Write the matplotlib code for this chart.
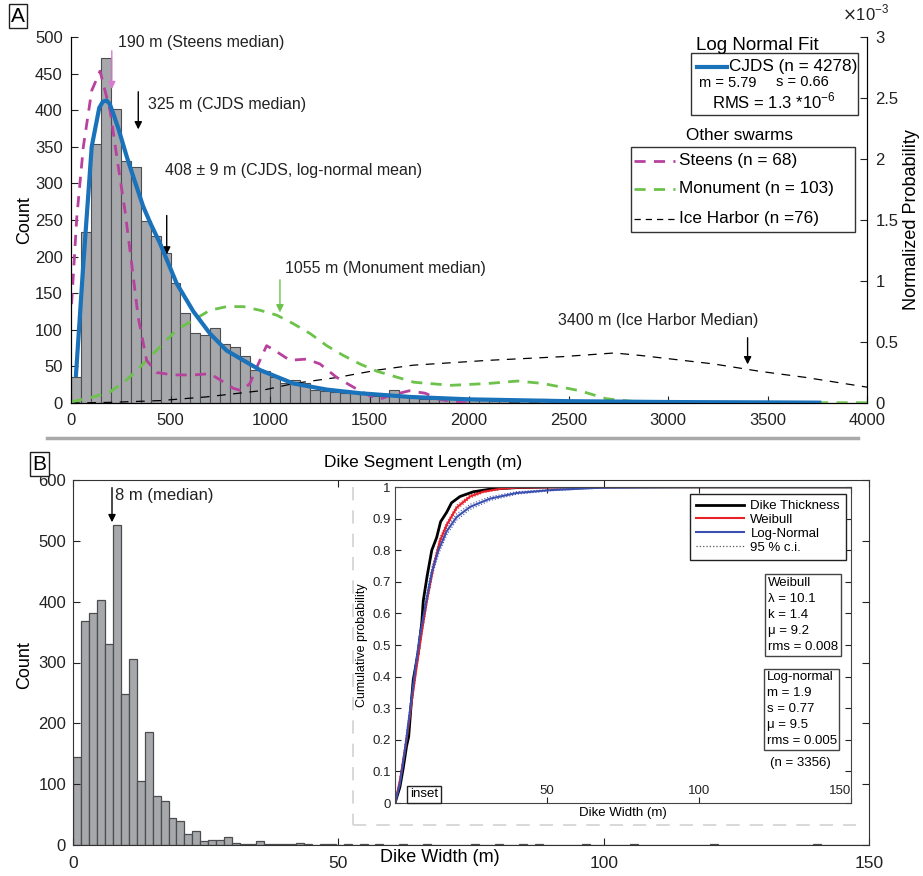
import matplotlib
matplotlib.use('Agg')
import matplotlib.pyplot as plt
from matplotlib.patches import Rectangle
from matplotlib.lines import Line2D
import numpy as np

plt.rcParams['font.family'] = ['Liberation Sans', 'DejaVu Sans']
plt.rcParams['font.size'] = 12

# ---- panel A: dike segment length (50 m bins, 0-4000 m) ----
length_counts = [35, 234, 354, 471, 401, 330, 322, 248, 228, 205,
                 164, 123, 96, 93, 103, 80, 77, 64, 45, 44,
                 35, 27, 31, 28, 18, 17, 15, 14, 14, 12,
                 10, 9, 18, 8, 7, 6, 6, 5, 5, 4,
                 4, 5, 3, 3, 2, 3, 2, 5, 2, 1,
                 2, 1, 1, 1, 2, 1, 1, 0, 1, 1,
                 0, 1, 0, 1, 1, 0, 0, 1, 0, 0,
                 1, 0, 0, 0, 1, 0, 0, 0, 0, 0]

# normalized probability curves (x1e-3)
cjds_x = [25, 62, 104, 142, 160, 179, 195, 213, 240, 280, 320, 363, 400, 447, 531,
          615, 698, 782, 950, 1117, 1285, 1452, 1700, 2000, 2500, 3000, 3500, 3760]
cjds_y = [0.23, 1.14, 2.10, 2.42, 2.47, 2.48, 2.45, 2.37, 2.24, 2.02, 1.82, 1.61, 1.47, 1.31, 0.98,
          0.75, 0.57, 0.43, 0.27, 0.16, 0.11, 0.08, 0.05, 0.03, 0.015, 0.008, 0.005, 0.003]

steens_x = [3, 29, 62, 104, 146, 196, 230, 271, 305, 338, 380, 430, 514, 615, 698, 749,
            816, 858, 899, 941, 983, 1034, 1100, 1184, 1251, 1335, 1419, 1452, 1500,
            1550, 1600, 1700, 1780, 1850, 1920, 2000]
steens_y = [0.81, 1.52, 2.10, 2.56, 2.72, 2.40, 2.02, 1.58, 1.14, 0.70, 0.35, 0.25, 0.23, 0.23, 0.24, 0.19,
            0.12, 0.10, 0.16, 0.32, 0.47, 0.42, 0.35, 0.36, 0.32, 0.21, 0.13, 0.10, 0.06,
            0.03, 0.06, 0.10, 0.08, 0.03, 0.01, 0.0]

monument_x = [3, 113, 196, 280, 363, 447, 531, 615, 698, 782, 866, 950, 1034, 1117, 1201,
              1285, 1368, 1452, 1538, 1724, 1910, 2097, 2244, 2372, 2558, 2690, 2838,
              3000, 3500, 4000]
monument_y = [0.01, 0.05, 0.09, 0.19, 0.32, 0.46, 0.60, 0.68, 0.76, 0.79, 0.79, 0.76, 0.72, 0.65, 0.57,
              0.47, 0.39, 0.32, 0.26, 0.17, 0.145, 0.16, 0.18, 0.16, 0.10, 0.035, 0.01,
              0.005, 0.003, 0.002]

ice_x = [0, 200, 450, 680, 950, 1120, 1340, 1540, 1720, 2100, 2470, 2730, 2860, 3230,
         3460, 3690, 4000]
ice_y = [0, 0.005, 0.02, 0.05, 0.10, 0.16, 0.21, 0.27, 0.31, 0.35, 0.38, 0.41, 0.39, 0.32,
         0.26, 0.21, 0.13]

# ---- panel B: dike width (1.5 m bins, 0-150 m) ----
width_counts = [145, 368, 382, 402, 331, 526, 249, 305, 106, 185,
                80, 73, 44, 39, 18, 23, 7, 8, 9, 13,
                3, 2, 2, 7, 1, 1, 2, 2, 3, 1,
                0, 2, 1, 0, 1, 0, 1, 0, 1, 0,
                0, 1, 0, 0, 1, 0, 0, 0, 0, 0,
                1, 0, 0, 1, 0, 0, 1, 0, 1, 0,
                0, 0, 0, 0, 1, 0, 0, 0, 0, 0,
                1, 0, 0, 0, 0, 0, 0, 0, 0, 0,
                1, 0, 0, 0, 0, 0, 0, 0, 0, 0,
                0, 0, 0, 1, 0, 0, 0, 0, 0, 0]

# inset: cumulative probability
ecdf_x = [0, 1.6, 2.7, 3.8, 4.5, 5.3, 6.0, 7.7, 8.8, 9.3, 10.6, 12.1, 13.7, 15.0, 17.0,
          18.6, 21.4, 25.8, 31.2, 40, 51, 150]
ecdf_y = [0, 0.05, 0.11, 0.18, 0.21, 0.31, 0.39, 0.48, 0.57, 0.64, 0.72, 0.80, 0.84, 0.89, 0.92,
          0.95, 0.97, 0.985, 0.993, 0.998, 1.0, 1.0]

weib_x = [0, 1.6, 3.8, 5.5, 7.1, 8.8, 10.5, 12.7, 14.8, 17.0, 20.3, 24.7, 29, 34.5, 40, 60, 150]
weib_y = [0, 0.07, 0.20, 0.32, 0.43, 0.54, 0.64, 0.75, 0.83, 0.88, 0.935, 0.97, 0.985, 0.994, 0.998, 1.0, 1.0]
weib_lo = [0, 0.06, 0.19, 0.31, 0.42, 0.53, 0.63, 0.74, 0.82, 0.873, 0.928, 0.965, 0.982, 0.992, 0.997, 1.0, 1.0]
weib_hi = [0, 0.08, 0.21, 0.33, 0.44, 0.55, 0.65, 0.76, 0.84, 0.887, 0.942, 0.975, 0.988, 0.996, 0.999, 1.0, 1.0]

logn_x = [0, 1.6, 3.3, 4.9, 6.6, 8.2, 9.9, 12.1, 14.3, 17.0, 20.3, 24.7, 31.2, 40, 51, 68, 95, 150]
logn_y = [0, 0.06, 0.17, 0.29, 0.42, 0.53, 0.62, 0.73, 0.80, 0.86, 0.905, 0.937, 0.963, 0.981, 0.99, 0.998, 1.0, 1.0]
logn_lo = [0, 0.05, 0.155, 0.275, 0.405, 0.515, 0.605, 0.715, 0.787, 0.848, 0.895, 0.929, 0.957, 0.977, 0.988, 0.997, 1.0, 1.0]
logn_hi = [0, 0.07, 0.185, 0.305, 0.435, 0.545, 0.635, 0.745, 0.813, 0.872, 0.915, 0.945, 0.969, 0.985, 0.992, 0.999, 1.0, 1.0]

BAR = '#a7a8ac'
BAR_EDGE = '#4d4d4f'
BLUE = '#1a72bb'
MAGENTA = '#b8419e'
GREEN = '#6cc24a'
INK = '#222222'

W, H = 923, 876


def fx(x):
    return x / W


def fy(y):
    return 1 - y / H


fig = plt.figure(figsize=(W / 100, H / 100), dpi=100)

# ================= panel A =================
ax = fig.add_axes([fx(71), fy(403), (867 - 71) / W, (403 - 37) / H])
edges = np.arange(0, 4000, 50)
ax.bar(edges, length_counts, width=50, align='edge', color=BAR, edgecolor=BAR_EDGE, lw=0.8)
ax.set_xlim(0, 4000)
ax.set_ylim(0, 500)
ax.set_xticks(np.arange(0, 4001, 500))
ax.set_yticks(np.arange(0, 501, 50))
ax.spines['top'].set_visible(False)
ax.tick_params(direction='in', length=5, colors=INK)
ax.tick_params(axis='x', pad=7)
ax.tick_params(axis='y', pad=6)

ax2 = ax.twinx()
ax2.plot(ice_x, ice_y, color='black', lw=0.9, dashes=(7, 6))
ax2.plot(monument_x, monument_y, color=GREEN, lw=2, dashes=(4, 3))
ax2.plot(steens_x, steens_y, color=MAGENTA, lw=2, dashes=(4, 3))
ax2.plot(cjds_x, cjds_y, color=BLUE, lw=3)
ax2.set_ylim(0, 3)
ax2.set_yticks(np.arange(0, 3.01, 0.5))
ax2.set_yticklabels(['0', '0.5', '1', '1.5', '2', '2.5', '3'])
ax2.spines['top'].set_visible(False)
ax2.tick_params(direction='in', length=5, pad=6, colors=INK)

# median / mean arrows
arrows = [(205, 485, 425, '#d77ccd', '190 m (Steens median)', 236, 493),
          (338, 429, 370, 'black', '325 m (CJDS median)', 387, 408),
          (481, 260, 199, 'black', '408 ± 9 m (CJDS, log-normal mean)', 472, 318),
          (1050, 172, 120, GREEN, '1055 m (Monument median)', 1075, 184),
          (3400, 93, 49, 'black', '3400 m (Ice Harbor Median)', 2447, 113)]
for x, y0, y1, c, label, tx, ty in arrows:
    ax.annotate('', xy=(x, y1), xytext=(x, y0),
                arrowprops=dict(arrowstyle='-|>', color=c, lw=1, mutation_scale=11))
    ax.text(tx, ty, label, fontsize=11.5, va='center', color=INK)

fig.text(fx(25), fy(220), 'Count', rotation=90, ha='center', va='center', fontsize=13)
fig.text(fx(911), fy(220), 'Normalized Probability', rotation=90, ha='center', va='center', fontsize=13)
fig.text(fx(842), fy(13), r'$\times$10$^{\mathregular{-3}}$', fontsize=12, va='center', color=INK)

# log normal fit box
fig.text(fx(696), fy(45), 'Log Normal Fit', fontsize=13.5, va='center')
fig.add_artist(Rectangle((fx(691), fy(115)), fx(858) - fx(691), fy(53) - fy(115),
                         transform=fig.transFigure, fill=False, ec='#333333', lw=1))
fig.add_artist(Line2D([fx(697), fx(727)], [fy(67), fy(67)], color=BLUE, lw=3))
fig.text(fx(729), fy(67), 'CJDS (n = 4278)', fontsize=12.3, va='center')
fig.text(fx(699), fy(83), 'm = 5.79', fontsize=10.5, va='center')
fig.text(fx(776), fy(82), 's = 0.66', fontsize=10.5, va='center')
fig.text(fx(712), fy(101), r'RMS = 1.3 *10$^{\mathregular{-6}}$', fontsize=12, va='center')

# other swarms box
fig.text(fx(686), fy(135), 'Other swarms', fontsize=12.3, va='center')
fig.add_artist(Rectangle((fx(631), fy(232)), fx(855) - fx(631), fy(147) - fy(232),
                         transform=fig.transFigure, fill=False, ec='#333333', lw=1))
swarm_keys = [('Steens (n = 68)', MAGENTA, 2, (4, 3), 161),
              ('Monument (n = 103)', GREEN, 2, (4, 3), 189),
              ('Ice Harbor (n =76)', 'black', 0.9, (5, 4), 219)]
for label, c, lw, dash, y in swarm_keys:
    fig.add_artist(Line2D([fx(634), fx(675)], [fy(y), fy(y)], color=c, lw=lw, dashes=dash))
    fig.text(fx(679), fy(y), label, fontsize=12.3, va='center')

# separator and panel labels
fig.add_artist(Line2D([fx(47), fx(858)], [fy(438), fy(438)], color='#a9a9a9', lw=2.5))
fig.text(fx(423), fy(462), 'Dike Segment Length (m)', ha='center', va='center', fontsize=12.5)
box = dict(boxstyle='square,pad=0.12', fc='white', ec=INK, lw=1)
fig.text(fx(18), fy(16), 'A', ha='center', va='center', fontsize=15, bbox=box)
fig.text(fx(39), fy(464), 'B', ha='center', va='center', fontsize=15, bbox=box)

# ================= panel B =================
ax3 = fig.add_axes([fx(73), fy(845), (869 - 73) / W, (845 - 480) / H])
wedges = np.arange(0, 150, 1.5)
ax3.bar(wedges, width_counts, width=1.5, align='edge', color=BAR, edgecolor=BAR_EDGE, lw=0.9)
ax3.set_xlim(0, 150)
ax3.set_ylim(0, 600)
ax3.set_xticks([0, 50, 100, 150])
ax3.set_yticks(np.arange(0, 601, 100))
ax3.tick_params(direction='in', length=5, top=True, right=True, colors=INK)
ax3.tick_params(axis='x', pad=8, labelsize=12.5)
ax3.tick_params(axis='y', pad=5)
for s in ax3.spines.values():
    s.set_color('#333333')
ax3.annotate('', xy=(7.35, 526), xytext=(7.35, 592),
             arrowprops=dict(arrowstyle='-|>', color='black', lw=1, mutation_scale=11))
ax3.text(8.0, 575, '8 m (median)', fontsize=12, va='center', color=INK)
fig.text(fx(25), fy(665), 'Count', rotation=90, ha='center', va='center', fontsize=13)
fig.text(fx(440), fy(858), 'Dike Width (m)', ha='center', va='center', fontsize=13)

# dashed frame around inset
frame = dict(color='#d2d2d2', lw=1.2, dashes=(8, 6))
fig.add_artist(Line2D([fx(353), fx(353)], [fy(487), fy(825)], **frame))
fig.add_artist(Line2D([fx(353), fx(856)], [fy(825), fy(825)], **frame))

# inset
ax4 = fig.add_axes([fx(395), fy(803), (851 - 395) / W, (803 - 487) / H])
ax4.set_facecolor('white')
ax4.plot(weib_x, weib_lo, color='#e8202a', lw=0.8, ls=':')
ax4.plot(weib_x, weib_hi, color='#e8202a', lw=0.8, ls=':')
ax4.plot(logn_x, logn_lo, color='#3a4fb0', lw=0.8, ls=':')
ax4.plot(logn_x, logn_hi, color='#3a4fb0', lw=0.8, ls=':')
ax4.plot(ecdf_x, ecdf_y, color='black', lw=2, label='Dike Thickness')
ax4.plot(weib_x, weib_y, color='#e8202a', lw=1.5, label='Weibull')
ax4.plot(logn_x, logn_y, color='#3a4fb0', lw=1.5, label='Log-Normal')
ax4.plot([], [], color='#555555', lw=0.9, ls=':', label='95 % c.i.')
ax4.set_xlim(0, 150)
ax4.set_ylim(0, 1)
ax4.set_xticks([50, 100, 150])
ax4.set_yticks(np.arange(0, 1.01, 0.1))
ax4.set_yticklabels(['0', '0.1', '0.2', '0.3', '0.4', '0.5', '0.6', '0.7', '0.8', '0.9', '1'])
ax4.tick_params(direction='in', length=4, top=True, right=True, labelsize=9.5, colors=INK)
ax4.tick_params(axis='x', pad=-13)
ax4.tick_params(axis='y', pad=3)
ax4.get_xticklabels()[-1].set_ha('right')
for s in ax4.spines.values():
    s.set_color('#444444')
ax4.set_xlabel('Dike Width (m)', fontsize=9.5, labelpad=3)
ax4.set_ylabel('Cumulative probability', fontsize=9, labelpad=3)
leg = ax4.legend(loc='upper right', bbox_to_anchor=(0.989, 0.978), borderaxespad=0,
                 fontsize=9.5, handlelength=3.6, handletextpad=0.5, labelspacing=0.12,
                 fancybox=False, framealpha=1, edgecolor='#222222', borderpad=0.45)
leg.get_frame().set_linewidth(1)
pbox = dict(boxstyle='square,pad=0.2', fc='white', ec='#444444', lw=1)
ax4.text(0.818, 0.716, 'Weibull\nλ = 10.1\nk = 1.4\nμ = 9.2\nrms = 0.008',
         transform=ax4.transAxes, va='top', fontsize=9.5, bbox=pbox, linespacing=1.45)
ax4.text(0.815, 0.417, 'Log-normal\nm = 1.9\ns = 0.77\nμ = 9.5\nrms = 0.005',
         transform=ax4.transAxes, va='top', fontsize=9.5, bbox=pbox, linespacing=1.45)
ax4.text(0.888, 0.127, '(n = 3356)', transform=ax4.transAxes, ha='center', va='center', fontsize=9.5)
ax4.text(0.064, 0.028, 'inset', transform=ax4.transAxes, ha='center', va='center', fontsize=9.5,
         bbox=dict(boxstyle='square,pad=0.2', fc='white', ec='#222222', lw=1))

fig.savefig('out.png', dpi=100)
